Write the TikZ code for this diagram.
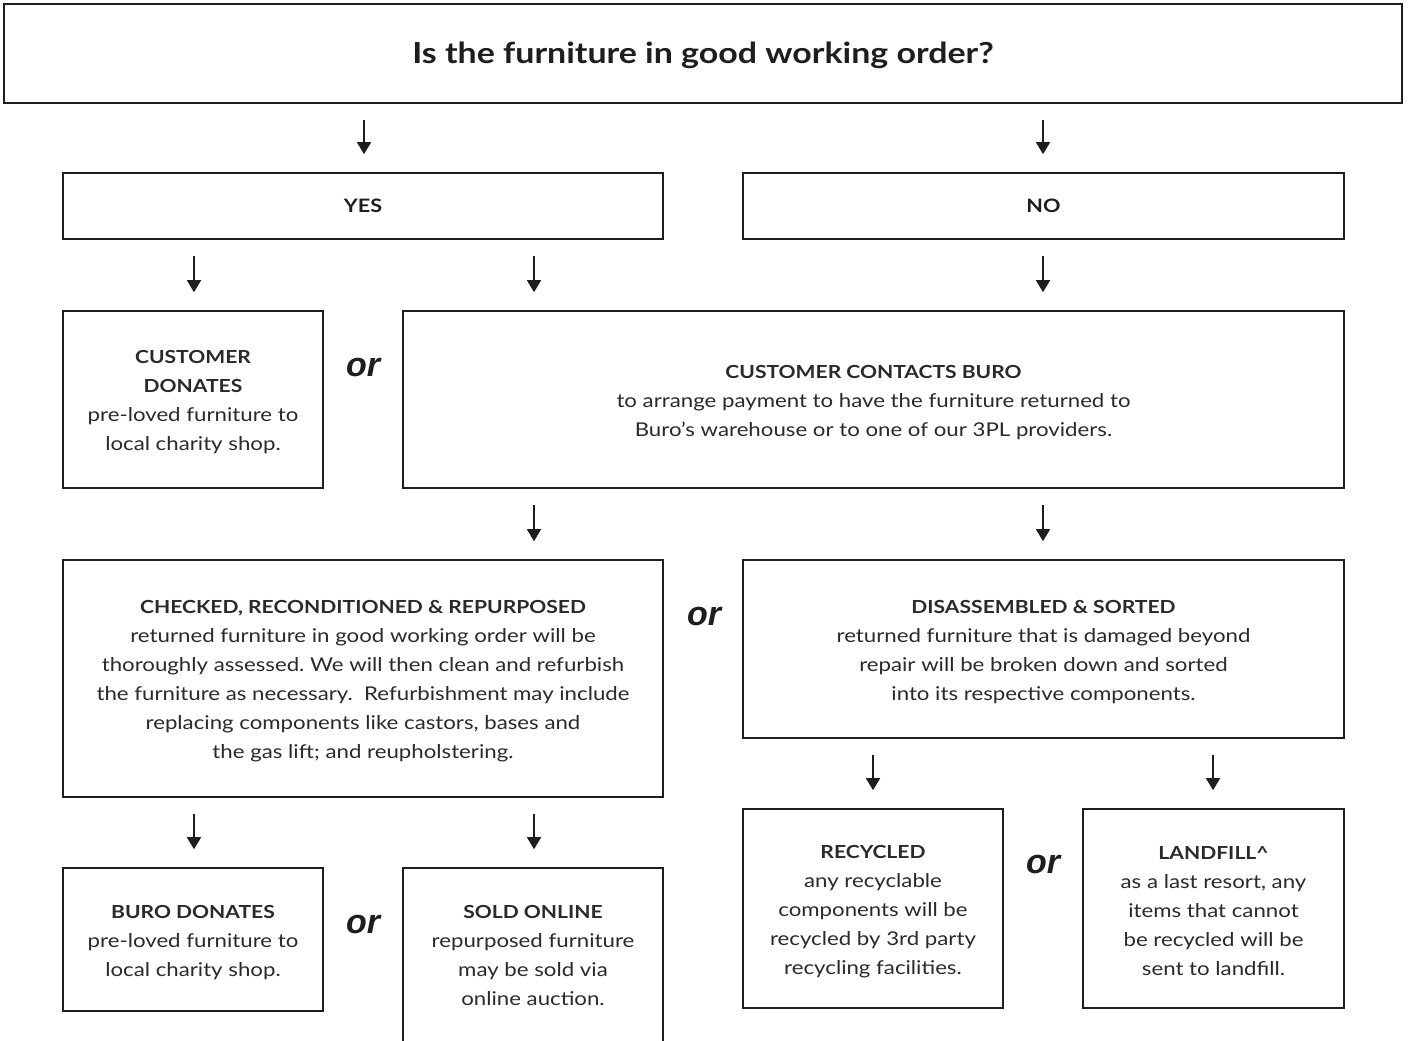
\documentclass[tikz,border=0pt]{standalone}
\usepackage{fontspec}
\setmainfont{Lato}[FakeStretch=1.17]
\newfontfamily\orfont{Liberation Sans}
\usetikzlibrary{arrows.meta,calc}
\definecolor{ink}{HTML}{1E1E1E}
\definecolor{bodyink}{HTML}{2A2A2A}
\frenchspacing
\begin{document}
\begin{tikzpicture}[x=1pt,y=-1pt,
  box/.style={draw=ink,line width=1.6pt,inner sep=0pt},
  txt/.style={inner sep=0pt,align=center,text=bodyink,font=\fontsize{19}{29}\selectfont},
  arr/.style={draw=ink,line width=1.4pt,-{Triangle[width=14pt,length=12pt]},
    shorten <=16pt,shorten >=18pt},
  ortext/.style={text=ink,font=\orfont\fontsize{34}{36}\selectfont\bfseries\itshape,inner sep=0pt}]
\useasboundingbox (0,0) rectangle (1409,1041);
\fill[white] (0,0) rectangle (1409,1041);
% column coordinates
\coordinate (cA) at (194,0);
\coordinate (cB) at (534,0);
\coordinate (cC) at (873,0);
\coordinate (cD) at (1043,0);
\coordinate (cE) at (1213,0);
\coordinate (cY) at (364,0);

\node[box,minimum width=1398pt,minimum height=99pt] (q) at (703,53.5) {};
\node[txt,text=ink,font=\fontsize{29}{32}\selectfont\bfseries,yshift=-2pt] (qt) at (q.center) {Is the furniture in good working order?};

\node[box,minimum width=600pt,minimum height=66pt] (yes) at (363,206) {};
\node[txt,text=ink,font=\fontsize{18.5}{20}\selectfont\bfseries] (yest) at (yes.center) {YES};
\node[box,minimum width=601pt,minimum height=66pt] (no) at (1043.5,206) {};
\node[txt,text=ink,font=\fontsize{18.5}{20}\selectfont\bfseries] (not) at (no.center) {NO};

\node[box,minimum width=260pt,minimum height=177pt] (cd) at (193,399.5) {};
\node[txt,yshift=-3pt] (cdt) at (cd.center)
  {{\bfseries\fontsize{18}{29}\selectfont CUSTOMER}\\{\bfseries\fontsize{18}{29}\selectfont DONATES}\\pre-loved furniture to\\local charity shop.};
\node[box,minimum width=941pt,minimum height=177pt] (ccb) at (873.5,399.5) {};
\node[txt,yshift=-3pt] (ccbt) at (ccb.center)
  {{\bfseries\fontsize{18}{29}\selectfont CUSTOMER CONTACTS BURO}\\to arrange payment to have the furniture returned to\\Buro’s warehouse or to one of our 3PL providers.};
\node[ortext] (or1) at (363,367.5) {or};

\node[box,minimum width=600pt,minimum height=237pt] (chk) at (363,678.5) {};
\node[txt,yshift=-3pt] (chkt) at (chk.center)
  {{\bfseries\fontsize{18}{29}\selectfont CHECKED, RECONDITIONED \& REPURPOSED}\\returned furniture in good working order will be\\thoroughly assessed. We will then clean and refurbish\\the furniture as necessary.\ \ Refurbishment may include\\replacing components like castors, bases and\\the gas lift; and reupholstering.};
\node[box,minimum width=601pt,minimum height=178pt] (dis) at (1043.5,649) {};
\node[txt,yshift=-3pt] (dist) at (dis.center)
  {{\bfseries\fontsize{18}{29}\selectfont DISASSEMBLED \& SORTED}\\returned furniture that is damaged beyond\\repair will be broken down and sorted\\into its respective components.};
\node[ortext] (or2) at (704,616.5) {or};

\node[box,minimum width=260pt,minimum height=143pt] (bd) at (193,939.5) {};
\node[txt,yshift=-3pt] (bdt) at (bd.center)
  {{\bfseries\fontsize{18}{29}\selectfont BURO DONATES}\\pre-loved furniture to\\local charity shop.};
\node[box,minimum width=260pt,minimum height=176pt] (so) at (533,956) {};
\node[txt,yshift=1pt] (sot) at (so.center)
  {{\bfseries\fontsize{18}{29}\selectfont SOLD ONLINE}\\repurposed furniture\\may be sold via\\online auction.};
\node[ortext] (or3) at (363,924.5) {or};

\node[box,minimum width=260pt,minimum height=199pt] (rec) at (873,908.5) {};
\node[txt,yshift=-3pt] (rect) at (rec.center)
  {{\bfseries\fontsize{18}{29}\selectfont RECYCLED}\\any recyclable\\components will be\\recycled by 3rd party\\recycling facilities.};
\node[box,minimum width=261pt,minimum height=199pt] (lf) at (1213.5,908.5) {};
\node[txt,yshift=-3pt] (lft) at (lf.center)
  {{\bfseries\fontsize{18}{29}\selectfont LANDFILL\^{}}\\as a last resort, any\\items that cannot\\be recycled will be\\sent to landfill.};
\node[ortext] (or4) at (1043,864.5) {or};

% connectors
\draw[arr] (q.south -| cY) -- (yes.north -| cY);
\draw[arr] (q.south -| cD) -- (no.north -| cD);
\draw[arr] (yes.south -| cA) -- (cd.north -| cA);
\draw[arr] (yes.south -| cB) -- (ccb.north -| cB);
\draw[arr] (no.south -| cD) -- (ccb.north -| cD);
\draw[arr] (ccb.south -| cB) -- (chk.north -| cB);
\draw[arr] (ccb.south -| cD) -- (dis.north -| cD);
\draw[arr] (chk.south -| cA) -- (bd.north -| cA);
\draw[arr] (chk.south -| cB) -- (so.north -| cB);
\draw[arr] (dis.south -| cC) -- (rec.north -| cC);
\draw[arr] (dis.south -| cE) -- (lf.north -| cE);
\end{tikzpicture}
\end{document}
